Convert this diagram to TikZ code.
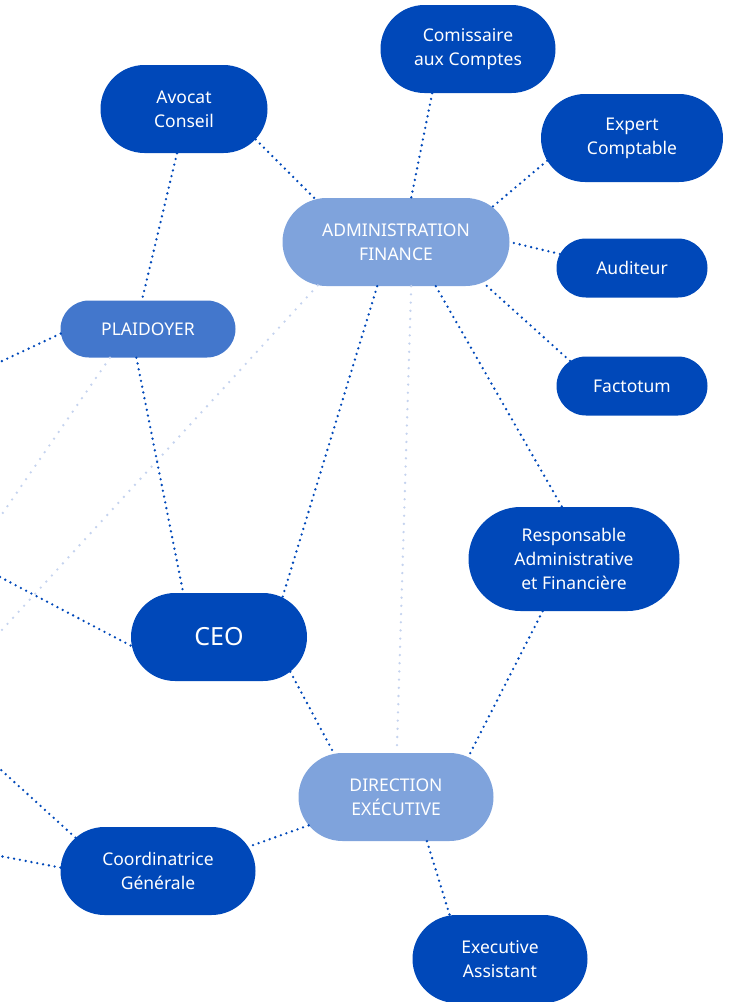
\documentclass[tikz,border=0pt]{standalone}
\usepackage{fontspec}
\setmainfont{Noto Sans}
\usetikzlibrary{shapes.misc}

\definecolor{deepblue}{HTML}{0048B9}
\definecolor{midblue}{HTML}{4377CC}
\definecolor{paleblue}{HTML}{7FA3DC}
\definecolor{faintdot}{HTML}{C5D3EE}

\tikzset{
  pill/.style={rounded rectangle,inner sep=0pt,text=white,align=center,
    font=\fontsize{17.5}{24}\selectfont},
  darkpill/.style={pill,fill=deepblue},
  midpill/.style={pill,fill=midblue},
  palepill/.style={pill,fill=paleblue},
  dotline/.style={deepblue,line width=2.6pt,line cap=round,dash pattern=on 0pt off 5.9pt},
  faintline/.style={faintdot,line width=2.6pt,line cap=round,dash pattern=on 0pt off 8.2pt}
}

\begin{document}
\begin{tikzpicture}[x=1pt,y=-1pt]

\def\nh{88} %usual node height
\def\sh{59} %short node height

\useasboundingbox (0,0) rectangle (729,1002);

%nodes
\node[darkpill,minimum width=175,minimum height=\nh] (comissaire) at (468,49) {Comissaire\\aux Comptes};
\node[darkpill,minimum width=167,minimum height=\nh] (avocat) at (184,109) {Avocat\\Conseil};
\node[darkpill,minimum width=182,minimum height=\nh] (expert) at (632,138) {Expert\\Comptable};
\node[palepill,minimum width=227,minimum height=\nh] (admin) at (396,242) {ADMINISTRATION\\FINANCE};
\node[darkpill,minimum width=151,minimum height=\sh] (auditeur) at (632,268) {Auditeur};
\node[midpill,minimum width=175,minimum height=57] (plaidoyer) at (148,329) {PLAIDOYER};
\node[darkpill,minimum width=151,minimum height=\sh] (factotum) at (632,386) {Factotum};
\node[darkpill,minimum width=211,minimum height=104] (raf) at (574,559) {Responsable\\Administrative\\et Financière};
\node[darkpill,minimum width=176,minimum height=\nh,font=\fontsize{25}{30}\selectfont] (ceo) at (219,637) {CEO};
\node[palepill,minimum width=195,minimum height=\nh] (direction) at (396,797) {DIRECTION\\EXÉCUTIVE};
\node[darkpill,minimum width=195,minimum height=\nh] (coord) at (158,871) {Coordinatrice\\Générale};
\node[darkpill,minimum width=175,minimum height=\nh] (assistant) at (500,959) {Executive\\Assistant};

%loose ends off the left edge
\coordinate (offA) at (0,362);
\coordinate (offB) at (0,577);
\coordinate (offC) at (0,769);
\coordinate (offD) at (0,856);
\coordinate (offE) at (0,517);
\coordinate (offF) at (0,632);

%faint links
\draw[faintline] (plaidoyer.-143) -- (offE);
\draw[faintline] (admin.-151) -- (offF);
\draw[faintline] (admin.-71) -- (direction.89);

%admin links
\draw[dotline] (avocat.-23) -- (admin.152);
\draw[dotline] (comissaire.-129) -- (admin.71);
\draw[dotline] (expert.-165) -- (admin.20);
\draw[dotline] (auditeur.169) -- (admin.0);
\draw[dotline] (factotum.158) -- (admin.-25);
\draw[dotline] (admin.-113) -- (ceo.32);
\draw[dotline] (admin.-48) -- (raf.103);

%plaidoyer links
\draw[dotline] (avocat.-99) -- (plaidoyer.102);
\draw[dotline] (plaidoyer.183) -- (offA);
\draw[dotline] (plaidoyer.-112) -- (ceo.129);

%ceo and direction links
\draw[dotline] (offB) -- (ceo.-174);
\draw[dotline] (ceo.-26) -- (direction.145);
\draw[dotline] (raf.-121) -- (direction.29);
\draw[dotline] (direction.-162) -- (coord.15);
\draw[dotline] (coord.158) -- (offC);
\draw[dotline] (coord.178) -- (offD);
\draw[dotline] (direction.-55) -- (assistant.139);

\end{tikzpicture}
\end{document}
